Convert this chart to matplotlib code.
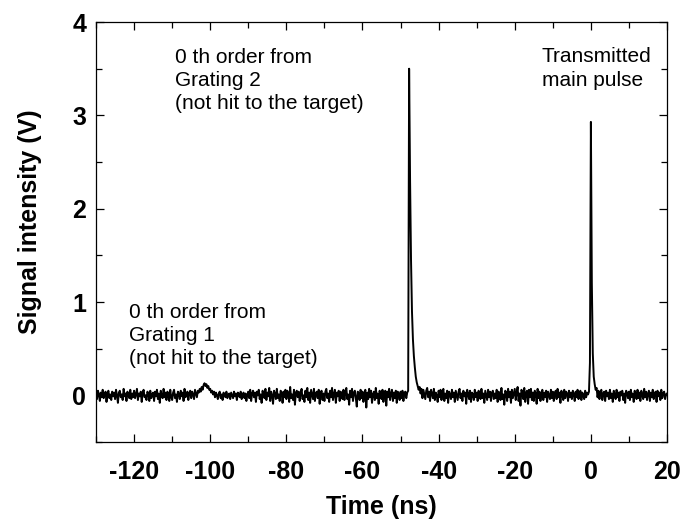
import matplotlib
matplotlib.use("Agg")
import matplotlib.pyplot as plt  # type: ignore
import numpy as np  # type: ignore
from matplotlib.ticker import MultipleLocator  # type: ignore

# Oscilloscope trace, sampled every 0.25 ns from -130 ns to 20 ns
# (one row = 5 ns = 20 samples)
time_start = -130.0
time_step = 0.25
signal_v = [
    # -130
    0.02, -0.04, 0.05, 0.01, -0.06, 0.03, -0.02, 0.06, -0.03, 0.00,
    0.04, -0.07, 0.02, 0.05, -0.03, 0.01, -0.05, 0.04, -0.01, 0.03,
    # -125
    -0.04, 0.06, 0.00, -0.08, 0.03, 0.05, -0.02, 0.01, -0.05, 0.07,
    -0.01, 0.02, -0.06, 0.04, 0.00, -0.03, 0.06, -0.04, 0.02, -0.02,
    # -120
    0.05, -0.03, 0.01, 0.07, -0.05, 0.02, -0.01, 0.04, -0.07, 0.03,
    0.06, -0.02, 0.00, -0.05, 0.04, 0.02, -0.06, 0.05, -0.03, 0.01,
    # -115
    0.03, -0.06, 0.04, -0.01, 0.06, -0.04, 0.02, -0.08, 0.05, 0.00,
    -0.03, 0.07, -0.02, 0.03, -0.05, 0.04, 0.01, -0.06, 0.06, -0.02,
    # -110
    -0.05, 0.03, 0.06, -0.03, 0.01, -0.07, 0.04, 0.02, -0.04, 0.05,
    -0.01, 0.03, -0.06, 0.07, -0.02, 0.00, 0.04, -0.05, 0.02, 0.05,
    # -105  (small bump from grating 1 near -101 ns)
    -0.03, 0.04, 0.01, -0.04, 0.06, 0.02, -0.02, 0.05, 0.03, 0.07,
    0.04, 0.09, 0.06, 0.11, 0.13, 0.10, 0.12, 0.08, 0.10, 0.06,
    # -100
    0.07, 0.03, 0.05, 0.01, 0.04, -0.02, 0.03, 0.00, -0.04, 0.02,
    0.04, -0.03, 0.01, -0.05, 0.03, 0.00, -0.02, 0.04, -0.03, 0.01,
    # -95
    0.02, -0.04, 0.03, 0.00, -0.03, 0.04, -0.01, 0.02, -0.05, 0.03,
    0.01, -0.02, 0.04, -0.04, 0.00, 0.03, -0.03, 0.02, -0.06, 0.01,
    # -90
    0.04, -0.03, 0.06, -0.06, 0.02, 0.05, -0.02, 0.03, -0.07, 0.04,
    0.00, 0.06, -0.04, 0.01, -0.08, 0.05, 0.02, -0.03, 0.07, -0.05,
    # -85
    0.03, -0.01, 0.08, -0.06, 0.04, 0.00, -0.09, 0.05, 0.02, -0.04,
    0.07, -0.03, 0.01, -0.06, 0.05, 0.03, -0.08, 0.04, -0.02, 0.06,
    # -80
    -0.04, 0.05, 0.02, -0.07, 0.09, -0.03, 0.01, -0.05, 0.06, -0.10,
    0.03, 0.05, -0.02, 0.04, -0.06, 0.02, 0.07, -0.04, 0.00, -0.07,
    # -75
    0.05, -0.02, 0.08, -0.05, 0.03, -0.08, 0.06, 0.01, -0.04, 0.07,
    -0.06, 0.02, 0.04, -0.03, 0.06, -0.09, 0.03, 0.05, -0.05, 0.02,
    # -70
    -0.06, 0.04, 0.07, -0.03, 0.02, -0.07, 0.05, -0.02, 0.08, -0.05,
    0.01, 0.06, -0.08, 0.03, -0.01, 0.05, -0.06, 0.04, 0.02, -0.04,
    # -65
    0.06, -0.05, 0.03, 0.08, -0.04, 0.01, -0.10, 0.05, -0.02, 0.07,
    -0.06, 0.03, 0.05, -0.03, -0.12, 0.04, 0.02, -0.05, 0.06, -0.03,
    # -60
    0.04, -0.07, 0.02, 0.06, -0.13, 0.03, -0.04, 0.07, -0.02, 0.05,
    -0.08, 0.01, 0.04, -0.05, 0.08, -0.03, 0.02, -0.09, 0.05, 0.00,
    # -55
    -0.04, 0.06, -0.07, 0.03, 0.05, -0.11, 0.04, -0.02, 0.07, -0.05,
    0.02, 0.06, -0.06, 0.03, -0.03, 0.05, -0.08, 0.04, 0.01, -0.05,
    # -50  (0th order from grating 2, peak near -47.8 ns)
    0.04, -0.03, 0.05, -0.06, 0.02, 0.04, -0.03, 0.03, 0.05, 3.50,
    2.30, 1.45, 0.90, 0.60, 0.42, 0.30, 0.20, 0.14, 0.10, 0.06,
    # -45
    0.09, 0.02, 0.07, -0.03, 0.06, 0.01, -0.04, 0.05, 0.08, -0.02,
    0.04, -0.06, 0.06, 0.02, -0.03, 0.07, -0.05, 0.03, 0.00, -0.07,
    # -40
    0.05, -0.02, 0.06, -0.05, 0.03, 0.07, -0.06, 0.02, -0.03, 0.05,
    -0.08, 0.04, 0.01, -0.04, 0.06, -0.02, 0.03, -0.07, 0.05, 0.00,
    # -35
    -0.05, 0.04, 0.07, -0.03, 0.02, -0.06, 0.05, -0.01, 0.03, -0.09,
    0.06, 0.02, -0.04, 0.05, -0.07, 0.03, 0.01, -0.05, 0.06, -0.02,
    # -30
    0.03, -0.06, 0.05, 0.01, -0.04, 0.07, -0.03, 0.02, -0.08, 0.05,
    0.00, -0.05, 0.06, -0.02, 0.04, -0.06, 0.03, 0.05, -0.04, 0.02,
    # -25
    -0.03, 0.06, -0.07, 0.04, 0.02, -0.05, 0.08, -0.04, 0.01, -0.10,
    0.05, 0.03, -0.06, 0.07, -0.02, 0.04, -0.08, 0.06, -0.03, 0.02,
    # -20
    0.07, -0.05, 0.03, 0.09, -0.06, 0.02, -0.11, 0.06, 0.04, -0.04,
    0.08, -0.07, 0.03, 0.05, -0.09, 0.06, -0.02, 0.07, -0.05, 0.03,
    # -15
    -0.06, 0.05, 0.02, -0.09, 0.07, -0.03, 0.04, -0.06, 0.01, 0.06,
    -0.05, 0.03, -0.02, 0.05, -0.07, 0.04, 0.00, -0.04, 0.06, -0.03,
    # -10
    0.04, -0.06, 0.02, 0.05, -0.04, 0.07, -0.02, 0.03, -0.08, 0.05,
    0.01, -0.05, 0.06, -0.03, 0.04, 0.02, -0.06, 0.05, -0.02, 0.03,
    # -5
    -0.04, 0.05, 0.01, -0.06, 0.04, -0.02, 0.06, -0.04, 0.02, 0.05,
    -0.05, 0.03, 0.00, -0.04, 0.05, -0.02, 0.03, 0.01, 0.04, 0.35,
    # 0  (transmitted main pulse)
    2.93, 1.20, 0.45, 0.20, 0.12, 0.06, 0.08, -0.02, 0.05, -0.04,
    0.03, 0.06, -0.05, 0.02, 0.04, -0.06, 0.05, -0.01, 0.03, -0.04,
    # 5
    0.06, -0.03, 0.02, -0.07, 0.05, 0.01, -0.04, 0.06, -0.02, 0.03,
    -0.06, 0.04, 0.00, 0.05, -0.05, 0.02, -0.08, 0.05, 0.03, -0.03,
    # 10
    0.04, -0.05, 0.06, -0.02, 0.02, -0.07, 0.05, 0.01, -0.04, 0.06,
    -0.03, 0.03, -0.06, 0.05, 0.00, -0.04, 0.07, -0.02, 0.04, -0.05,
    # 15
    0.02, 0.05, -0.06, 0.03, -0.02, 0.06, -0.04, 0.01, 0.04, -0.07,
    0.05, -0.01, 0.03, -0.05, 0.06, -0.03, 0.02, 0.04, -0.04, 0.01,
    # 20
    0.02,
]
time_ns = time_start + time_step * np.arange(len(signal_v))

x_ticks = [-120, -100, -80, -60, -40, -20, 0, 20]
y_ticks = [0, 1, 2, 3, 4]

# text, x (ns), y of the last line's baseline (V)
labels = [
    ("0 th order from\nGrating 2\n(not hit to the target)", -109.3, 3.07),
    ("0 th order from\nGrating 1\n(not hit to the target)", -121.3, 0.335),
    ("Transmitted\nmain pulse", -12.9, 3.32),
]

plt.rcParams["font.family"] = ["Liberation Sans", "DejaVu Sans"]
plt.rcParams["axes.unicode_minus"] = False

fig = plt.figure(figsize=(6.83, 5.25), dpi=100)
ax = fig.add_axes([0.1406, 0.158, 0.836, 0.8])

ax.plot(time_ns, signal_v, color="black", linewidth=1.4)

ax.set_xlim(-130, 20)
ax.set_ylim(-0.5, 4)
ax.set_xticks(x_ticks)
ax.set_yticks(y_ticks)
ax.xaxis.set_minor_locator(MultipleLocator(10))
ax.yaxis.set_minor_locator(MultipleLocator(0.5))

ax.tick_params(which="both", direction="in", top=True, right=True, width=0.9)
ax.tick_params(which="major", length=6)
ax.tick_params(which="minor", length=4)
ax.tick_params(axis="x", which="major", pad=13, labelsize=18)
ax.tick_params(axis="y", which="major", pad=7, labelsize=18)
for lbl in ax.get_xticklabels() + ax.get_yticklabels():
    lbl.set_fontweight("bold")

for spine in ax.spines.values():
    spine.set_linewidth(0.9)

ax.set_xlabel("Time (ns)", fontsize=18, fontweight="bold")
ax.set_ylabel("Signal intensity (V)", fontsize=18, fontweight="bold")
ax.xaxis.set_label_coords(0.5, -0.127)
ax.yaxis.set_label_coords(-0.095, 0.524)

for text, x, y in labels:
    ax.text(x, y, text, fontsize=15, ha="left", va="baseline", linespacing=1.27)

fig.savefig("out.png", dpi=100)
